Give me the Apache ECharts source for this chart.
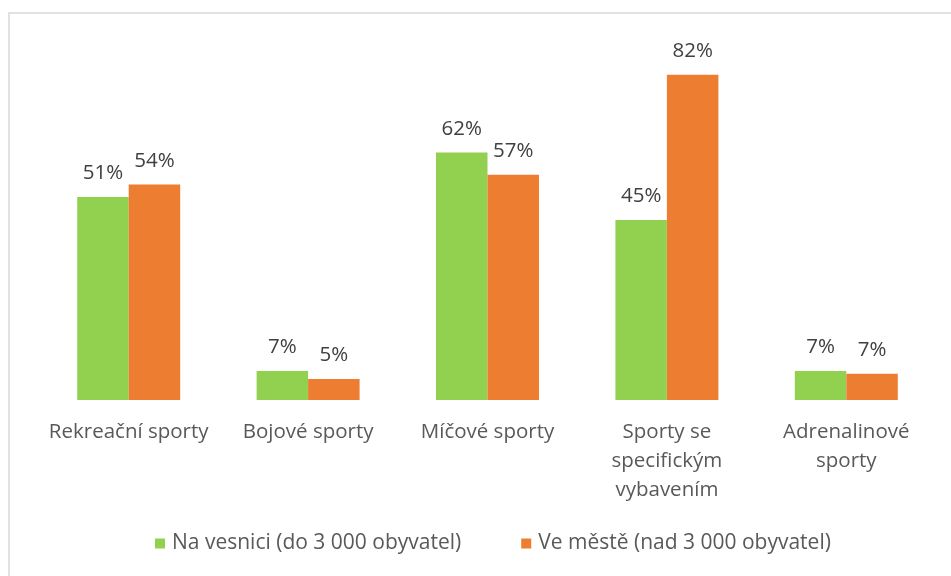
<!DOCTYPE html>
<html>
<head>
<meta charset="utf-8">
<script src="https://cdn.jsdelivr.net/npm/echarts@6/dist/echarts.min.js"></script>
<style>
  html, body { margin: 0; padding: 0; background: #fff; }
  #chart { width: 951px; height: 576px; }
</style>
</head>
<body>
<div id="chart"></div>
<script>
// kategorie a hodnoty (v %)
var categories = ['Rekreační sporty', 'Bojové sporty', 'Míčové sporty', 'Sporty se\nspecifickým\nvybavením', 'Adrenalinové\nsporty'];
var seriesNames = ['Na vesnici (do 3 000 obyvatel)', 'Ve městě (nad 3 000 obyvatel)'];
var vesnice = [51.2, 7.3, 62.4, 45.4, 7.3];
var mesto = [54.3, 5.3, 56.8, 82.0, 6.6];

var font = '"Open Sans", sans-serif';
var fs = 20.5;

var chart = echarts.init(document.getElementById('chart'));

var option = {
    animation: false,
    graphic: [{
        type: 'rect',
        shape: { x: 9, y: 13, width: 1000, height: 700 },
        style: { fill: 'none', stroke: '#d9d9d9', lineWidth: 1.5 },
        silent: true
    }],
    grid: { left: 39, right: 15, top: 43, bottom: 176 },
    legend: {
        data: seriesNames,
        bottom: 17,
        left: 150,
        itemWidth: 10,
        itemHeight: 10,
        itemGap: 60,
        icon: 'rect',
        textStyle: { color: '#595959', fontSize: 21, fontFamily: font, padding: [0, 0, 0, 2] }
    },
    xAxis: {
        type: 'category',
        data: categories,
        axisLine: { show: false },
        axisTick: { show: false },
        axisLabel: {
            color: '#595959',
            fontSize: fs,
            fontFamily: font,
            lineHeight: 29,
            margin: 18,
            interval: 0
        }
    },
    yAxis: {
        type: 'value',
        min: 0,
        max: 90,
        show: false,
        splitLine: { show: false }
    },
    series: [{
        name: seriesNames[0],
        type: 'bar',
        data: vesnice,
        barWidth: '28.7%',
        barGap: '0%',
        itemStyle: { color: '#92d050' },
        label: {
            show: true, position: 'top', distance: 13,
            color: '#404040', fontSize: fs, fontFamily: font,
            formatter: function (p) { return Math.round(p.value) + '%'; }
        }
    }, {
        name: seriesNames[1],
        type: 'bar',
        data: mesto,
        barWidth: '28.7%',
        itemStyle: { color: '#ed7d31' },
        label: {
            show: true, position: 'top', distance: 13,
            color: '#404040', fontSize: fs, fontFamily: font,
            formatter: function (p) { return Math.round(p.value) + '%'; }
        }
    }]
};

chart.setOption(option);
</script>
</body>
</html>
